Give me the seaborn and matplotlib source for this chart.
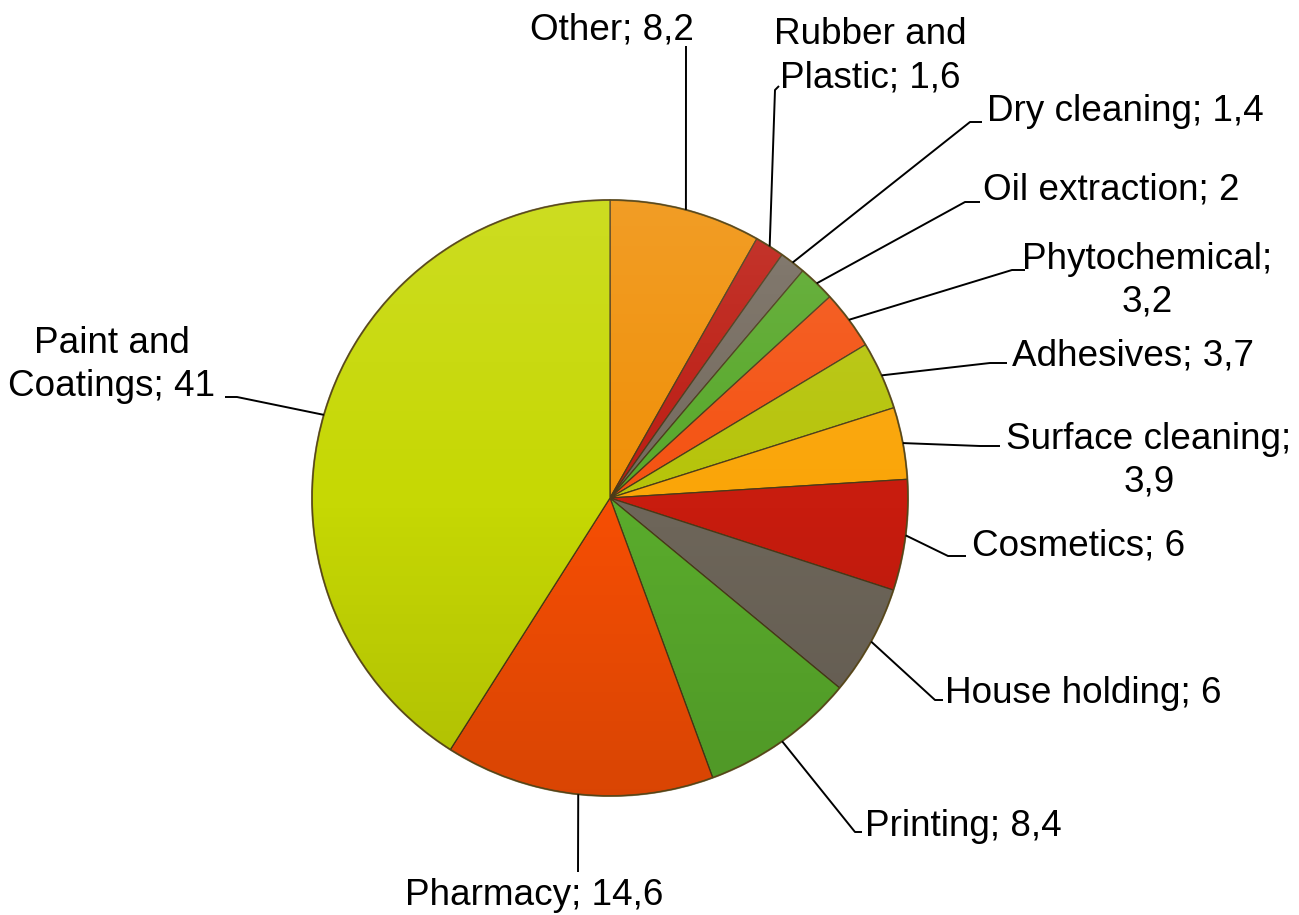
import numpy as np
import matplotlib
matplotlib.use("Agg")
import matplotlib.pyplot as plt
import seaborn as sns
from matplotlib.patches import Circle

# ---- data ----
names = ["Other", "Rubber and Plastic", "Dry cleaning", "Oil extraction",
         "Phytochemical", "Adhesives", "Surface cleaning", "Cosmetics",
         "House holding", "Printing", "Pharmacy", "Paint and Coatings"]
values = [8.2, 1.6, 1.4, 2.0, 3.2, 3.7, 3.9, 6.0, 6.0, 8.4, 14.6, 41.0]
value_labels = ["8,2", "1,6", "1,4", "2", "3,2", "3,7", "3,9", "6", "6", "8,4", "14,6", "41"]
label_texts = ["Other; 8,2", "Rubber and\nPlastic; 1,6", "Dry cleaning; 1,4",
               "Oil extraction; 2", "Phytochemical;\n3,2", "Adhesives; 3,7",
               "Surface cleaning;\n3,9", "Cosmetics; 6", "House holding; 6",
               "Printing; 8,4", "Pharmacy; 14,6", "Paint and\nCoatings; 41"]
colors = ["#F09008", "#BC1C12", "#746A5E", "#58A82A", "#F45212", "#B6C40A",
          "#FAA508", "#C81C0E", "#6E665A", "#5AAC2C", "#F64E04", "#C6D804"]

# ---- layout (pixel coordinates, y downward) ----
W, H = 1299, 915
def Y(py):
    return H - py

# text anchor: (x, baseline y of last line, ha)
text_pos = [(612, 40, "center"), (870, 87, "center"), (987, 121, "left"),
            (983, 200, "left"), (1147, 312, "center"), (1012, 365, "left"),
            (1149, 492, "center"), (972, 555, "left"), (945, 703, "left"),
            (865, 836, "left"), (534, 905, "center"), (112, 396, "center")]
# elbow points of leader lines (from outside end toward the pie)
leader_pts = [[(686, 46)], [(779, 86), (775, 90)], [(982, 122), (970, 122)],
              [(980, 202), (965, 202)], [(1025, 270), (1012, 270)],
              [(1007, 363), (990, 363)], [(1000, 446), (980, 446)],
              [(966, 556), (948, 556)], [(943, 700), (935, 700)],
              [(862, 832), (855, 832)], [(578, 872)], [(225, 397), (237, 397)]]

sns.set_theme(style="white")
plt.rcParams['font.family'] = ['Liberation Sans', 'DejaVu Sans']
palette = sns.color_palette(colors)

fig = plt.figure(figsize=(W / 100, H / 100), dpi=100)
ax = fig.add_axes([0, 0, 1, 1])

cx, cy, R = 610, Y(498), 298
wedges, _ = ax.pie(values, colors=palette, startangle=90, counterclock=False,
                   center=(cx, cy), radius=R,
                   wedgeprops=dict(edgecolor="#4a3a18", linewidth=0.9))

# shading overlay (light top, darker bottom) clipped to the pie
grad = np.linspace(0, 1, 256).reshape(-1, 1)
rgba = np.zeros((256, 1, 4))
rgba[..., :3] = np.where(grad[..., None] < 0.5, 1.0, 0.0)
rgba[..., 3] = (np.abs(grad - 0.5) * 0.24)
img = ax.imshow(rgba, extent=(cx - R, cx + R, cy - R, cy + R), origin="upper",
                aspect="auto", zorder=3, interpolation="bilinear")
clip = Circle((cx, cy), R, transform=ax.transData)
img.set_clip_path(clip)
rim = Circle((cx, cy), R, fill=False, edgecolor="#5b4a18", linewidth=1.4,
             alpha=0.7, zorder=4)
ax.add_patch(rim)

# labels and leader lines
for w, txt, (tx, ty, ha), pts in zip(wedges, label_texts, text_pos, leader_pts):
    mid = np.deg2rad((w.theta1 + w.theta2) / 2)
    ex, ey = cx + R * np.cos(mid), cy + R * np.sin(mid)
    xs = [p[0] for p in pts] + [ex]
    ys = [Y(p[1]) for p in pts] + [ey]
    ax.plot(xs, ys, color="black", linewidth=1.4, zorder=5,
            solid_capstyle="butt")
    ax.text(tx, Y(ty), txt, ha=ha, va="baseline", fontsize=26.6,
            color="black", multialignment="center", linespacing=1.28, zorder=6)

ax.set_xlim(0, W)
ax.set_ylim(0, H)
ax.set_aspect("equal", adjustable="box")
ax.axis("off")

fig.savefig("out.png", dpi=100, facecolor="white")
